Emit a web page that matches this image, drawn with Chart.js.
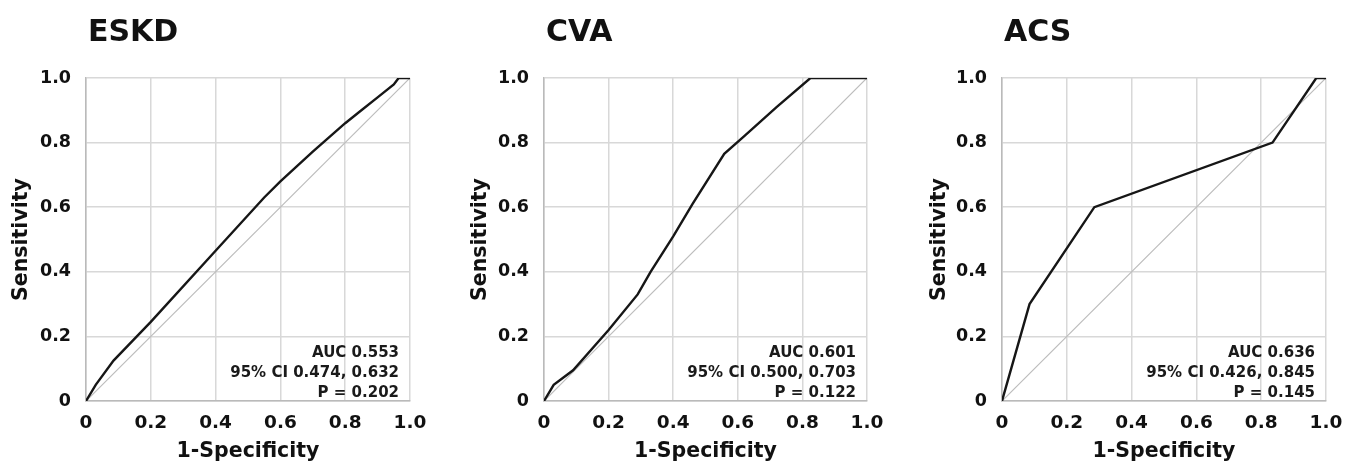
<!DOCTYPE html>
<html>
<head>
<meta charset="utf-8">
<script src="https://cdn.jsdelivr.net/npm/chart.js@4.4.1/dist/chart.umd.min.js"></script>
<style>
html, body { margin: 0; padding: 0; background: #fff; overflow: hidden; }
.panel { position: absolute; top: 0; height: 472px; }
</style>
</head>
<body>
<div class="panel" style="left:0px;width:440px"><canvas id="c0"></canvas></div>
<div class="panel" style="left:459px;width:438px"><canvas id="c1"></canvas></div>
<div class="panel" style="left:918px;width:427px"><canvas id="c2"></canvas></div>
<script>
// tick labels shared by both axes
const tickLabels = ['0', '0.2', '0.4', '0.6', '0.8', '1.0'];

const panelTitles = ['ESKD', 'CVA', 'ACS'];

// ROC curves (1-specificity, sensitivity)
const eskdX = [0, 0.03, 0.085, 0.2, 0.4, 0.55, 0.6, 0.7, 0.8, 0.85, 0.9, 0.95, 0.965, 1.0];
const eskdY = [0, 0.05, 0.125, 0.245, 0.465, 0.63, 0.68, 0.772, 0.86, 0.9, 0.94, 0.98, 1.0, 1.0];

const cvaX = [0, 0.03, 0.09, 0.2, 0.29, 0.33, 0.4, 0.46, 0.558, 0.62, 0.72, 0.825, 1.0];
const cvaY = [0, 0.05, 0.095, 0.22, 0.33, 0.4, 0.51, 0.61, 0.765, 0.82, 0.91, 1.0, 1.0];

const acsX = [0, 0.085, 0.285, 0.835, 0.97, 1.0];
const acsY = [0, 0.3, 0.6, 0.8, 1.0, 1.0];

// chance line
const refX = [0, 1];
const refY = [0, 1];

const statLines = [
    ['AUC 0.553', '95% CI 0.474, 0.632', 'P = 0.202'],
    ['AUC 0.601', '95% CI 0.500, 0.703', 'P = 0.122'],
    ['AUC 0.636', '95% CI 0.426, 0.845', 'P = 0.145']
];

const curvesX = [eskdX, cvaX, acsX];
const curvesY = [eskdY, cvaY, acsY];

// layout of each canvas: y-axis width and right padding
const yAxisWidths = [86, 85, 84];
const rightPads = [30, 30, 19];

const FONT = '"DejaVu Sans", Arial, sans-serif';

const panelText = {
    id: 'panelText',
    afterDraw(chart, args, opts) {
        const { ctx, chartArea } = chart;
        ctx.save();
        ctx.fillStyle = '#111';
        ctx.font = 'bold 30px ' + FONT;
        ctx.textAlign = 'left';
        ctx.textBaseline = 'alphabetic';
        ctx.fillText(opts.title, chartArea.left + 2, 41);

        ctx.fillStyle = '#1a1a1a';
        ctx.font = 'bold 15px ' + FONT;
        ctx.textAlign = 'right';
        opts.lines.forEach((t, i) => {
            ctx.fillText(t, chartArea.right - 11, chartArea.bottom - 44 + i * 20);
        });
        ctx.restore();
    }
};

function toPoints(xs, ys) {
    return xs.map((x, i) => ({ x: x, y: ys[i] }));
}

function makeChart(i) {
    const ctx = document.getElementById('c' + i).getContext('2d');
    return new Chart(ctx, {
        type: 'line',
        data: {
            datasets: [{
                data: toPoints(curvesX[i], curvesY[i]),
                borderColor: '#161616',
                borderWidth: 2.4,
                pointRadius: 0,
                tension: 0
            }, {
                data: toPoints(refX, refY),
                borderColor: '#bcbcbc',
                borderWidth: 1.2,
                pointRadius: 0
            }]
        },
        plugins: [panelText],
        options: {
            responsive: true,
            maintainAspectRatio: false,
            animation: false,
            layout: {
                padding: { top: 78, left: 0, right: rightPads[i], bottom: 0 }
            },
            plugins: {
                legend: { display: false },
                tooltip: { enabled: false },
                panelText: { title: panelTitles[i], lines: statLines[i] }
            },
            scales: {
                x: {
                    type: 'linear',
                    min: 0,
                    max: 1,
                    afterFit: s => {
                        s.height = 71;
                        s.paddingLeft = 0;
                        s.paddingRight = 0;
                    },
                    grid: { color: '#d8d8d8', lineWidth: 1.5, drawTicks: false },
                    border: { color: '#bababa', width: 1.5 },
                    ticks: {
                        stepSize: 0.2,
                        padding: 11,
                        color: '#111',
                        font: { family: FONT, size: 18.5, weight: 'bold' },
                        maxRotation: 0,
                        callback: (v, idx) => tickLabels[idx]
                    },
                    title: {
                        display: true,
                        text: '1-Specificity',
                        color: '#111',
                        font: { family: FONT, size: 20.5, weight: 'bold' },
                        padding: { top: 0, bottom: 8 }
                    }
                },
                y: {
                    type: 'linear',
                    min: 0,
                    max: 1,
                    afterFit: s => { s.width = yAxisWidths[i]; },
                    grid: { color: '#d8d8d8', lineWidth: 1.5, drawTicks: false },
                    border: { color: '#bababa', width: 1.5 },
                    ticks: {
                        stepSize: 0.2,
                        padding: 15,
                        color: '#111',
                        font: { family: FONT, size: 17.5, weight: 'bold' },
                        callback: (v, idx) => tickLabels[idx]
                    },
                    title: {
                        display: true,
                        text: 'Sensitivity',
                        color: '#111',
                        font: { family: FONT, size: 20.5, weight: 'bold' },
                        padding: { top: 9, bottom: 0 }
                    }
                }
            }
        }
    });
}

[0, 1, 2].forEach(makeChart);
</script>
</body>
</html>
